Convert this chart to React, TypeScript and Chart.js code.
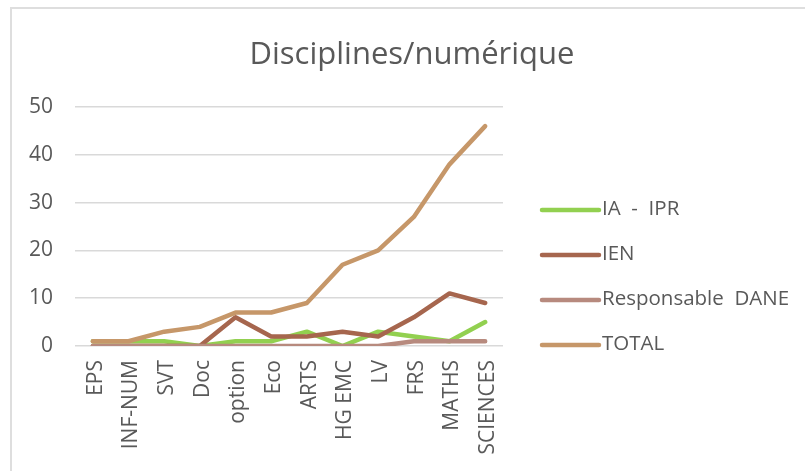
import React, { useEffect, useRef } from "react";
import { Chart, registerables } from "chart.js";

Chart.register(...registerables);

const categories = ["EPS", "INF-NUM", "SVT", "Doc", "option", "Eco", "ARTS", "HG EMC", "LV", "FRS", "MATHS", "SCIENCES"];
const iaIpr = [1, 1, 1, 0, 1, 1, 3, 0, 3, 2, 1, 5];
const ien = [0, 0, 0, 0, 6, 2, 2, 3, 2, 6, 11, 9];
const dane = [0, 0, 0, 0, 0, 0, 0, 0, 0, 1, 1, 1];
const total = [1, 1, 3, 4, 7, 7, 9, 17, 20, 27, 38, 46];
const seriesNames = ["IA  -  IPR", "IEN", "Responsable  DANE", "TOTAL"];
const yTicks = [0, 10, 20, 30, 40, 50];
const chartTitle = "Disciplines/numérique";

const TEXT = "#595959";
const FONT = "'Open Sans'";

const titleAndLegend = {
  id: "titleAndLegend",
  afterDraw(chart: any) {
    const ctx = chart.ctx as CanvasRenderingContext2D;
    ctx.save();
    // title
    ctx.fillStyle = TEXT;
    ctx.font = `31px ${FONT}`;
    ctx.textAlign = "center";
    ctx.textBaseline = "alphabetic";
    ctx.fillText(chartTitle, 412, 64);
    // legend
    const area = chart.chartArea;
    const x0 = area.right + 39;
    const lineLen = 57;
    const firstY = 210;
    const step = 45;
    chart.data.datasets.forEach((ds: any, i: number) => {
      const y = firstY + i * step;
      ctx.beginPath();
      ctx.strokeStyle = ds.borderColor;
      ctx.lineWidth = 4.5;
      ctx.lineCap = "round";
      ctx.moveTo(x0, y);
      ctx.lineTo(x0 + lineLen, y);
      ctx.stroke();
      ctx.fillStyle = TEXT;
      ctx.font = `20.5px ${FONT}`;
      ctx.textAlign = "left";
      ctx.textBaseline = "middle";
      ctx.fillText(ds.label, x0 + lineLen + 3, y - 1);
    });
    ctx.restore();
  },
};

export default function App() {
  const ref = useRef<HTMLCanvasElement | null>(null);
  useEffect(() => {
    if (!ref.current) return;
    const mk = (label: string, data: number[], color: string, order: number) => ({
      label,
      data,
      borderColor: color,
      backgroundColor: color,
      borderWidth: 4.5,
      borderCapStyle: "round" as const,
      borderJoinStyle: "round" as const,
      pointRadius: 0,
      pointHoverRadius: 0,
      tension: 0,
      fill: false,
      order,
    });
    const chart = new Chart(ref.current, {
      type: "line",
      data: {
        labels: categories,
        datasets: [
          mk(seriesNames[0], iaIpr, "rgb(146,208,80)", 4),
          mk(seriesNames[1], ien, "rgb(166,102,78)", 3),
          mk(seriesNames[2], dane, "rgb(183,138,126)", 2),
          mk(seriesNames[3], total, "rgb(198,151,105)", 1),
        ],
      },
      options: {
        responsive: false,
        animation: false,
        events: [],
        layout: { padding: { left: 22, right: 302, top: 107, bottom: 0 } },
        plugins: {
          tooltip: { enabled: false },
          title: { display: false },
          legend: { display: false },
        },
        scales: {
          x: {
            offset: true,
            grid: { display: false, drawTicks: false },
            border: { display: false },
            ticks: {
              autoSkip: false,
              maxRotation: 90,
              minRotation: 90,
              padding: 14,
              labelOffset: 3,
              color: TEXT,
              font: { family: FONT, size: 21 },
            },
            afterFit: (s: any) => {
              s.height = 125;
            },
          },
          y: {
            min: 0,
            max: 50,
            afterBuildTicks: (s: any) => {
              s.ticks = yTicks.map((v) => ({ value: v }));
            },
            grid: { color: "#d9d9d9", lineWidth: 1.6, drawTicks: false },
            border: { display: false },
            ticks: {
              padding: 22,
              color: TEXT,
              font: { family: FONT, size: 21 },
            },
            afterFit: (s: any) => {
              s.width = 53;
            },
          },
        },
      },
      plugins: [titleAndLegend],
    });
    return () => chart.destroy();
  }, []);
  return (
    <div style={{ position: "fixed", left: 0, top: 0, width: 805, height: 471, overflow: "hidden", background: "#fff" }}>
      <div
        style={{
          position: "absolute",
          left: 10,
          top: 7,
          width: 900,
          height: 700,
          border: "2px solid #dedede",
        }}
      />
      <canvas ref={ref} width={805} height={471} style={{ position: "absolute", left: 0, top: 0 }} />
    </div>
  );
}
